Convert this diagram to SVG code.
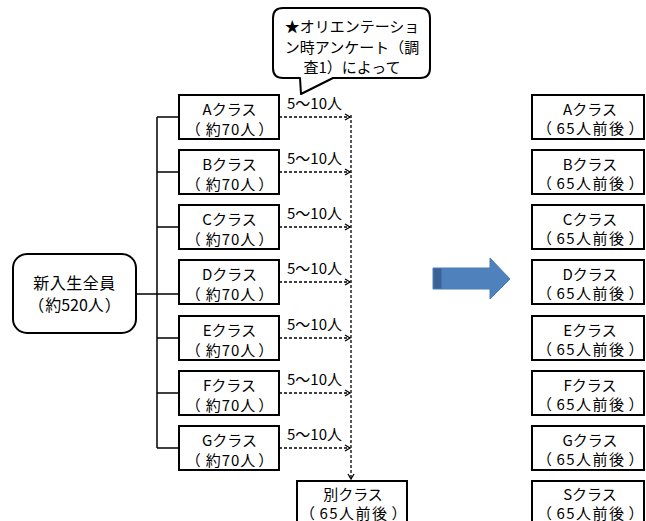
<svg xmlns="http://www.w3.org/2000/svg" width="646" height="521" viewBox="0 0 646 521">
<style>
text{font-family:"Noto Sans CJK JP","Noto Sans",sans-serif;font-size:15px;fill:#000;text-anchor:middle;dominant-baseline:central}
.box{fill:#fff;stroke:#000;stroke-width:2}
.lbl{text-anchor:start;dominant-baseline:alphabetic}
.conn{fill:none;stroke:#000;stroke-width:1.5}
.dash{fill:none;stroke:#000;stroke-width:1.3;stroke-dasharray:3 2}
.big{font-size:16px}
.p{letter-spacing:1px}
.q{letter-spacing:1.5px}
</style>
<defs>
<marker id="ah" markerUnits="userSpaceOnUse" markerWidth="8" markerHeight="8" refX="6" refY="4" orient="auto">
<path d="M1,1 L6,4 L1,7" fill="none" stroke="#000" stroke-width="1.3"/>
</marker>
</defs>
<rect width="646" height="521" fill="#fff"/>

<g id="connectors">
<path class="conn" d="M136,294 H179 M157,117 V448 M157,117 H179 M157,172 H179 M157,227 H179 M157,338 H179 M157,393 H179 M157,448 H179"/>
<path class="dash" d="M279,117 H350" marker-end="url(#ah)"/>
<path class="dash" d="M279,172 H350" marker-end="url(#ah)"/>
<path class="dash" d="M279,227 H350" marker-end="url(#ah)"/>
<path class="dash" d="M279,282 H350" marker-end="url(#ah)"/>
<path class="dash" d="M279,338 H350" marker-end="url(#ah)"/>
<path class="dash" d="M279,393 H350" marker-end="url(#ah)"/>
<path class="dash" d="M279,448 H350" marker-end="url(#ah)"/>
<path class="dash" d="M351,115 V479" marker-end="url(#ah)"/>
<text class="lbl" x="287" y="109">5～10人</text>
<text class="lbl" x="287" y="164">5～10人</text>
<text class="lbl" x="287" y="219">5～10人</text>
<text class="lbl" x="287" y="274">5～10人</text>
<text class="lbl" x="287" y="330">5～10人</text>
<text class="lbl" x="287" y="385">5～10人</text>
<text class="lbl" x="287" y="440">5～10人</text>
</g>

<g id="callout">
<path d="M283,8 H420 Q430,8 430,18 V68 Q430,78 420,78 H333 L301,94 L300,78 H283 Q273,78 273,68 V18 Q273,8 283,8 Z" fill="#fff" stroke="#000" stroke-width="2" stroke-linejoin="round"/>
<text x="352" y="25">★オリエンテーショ</text>
<text x="352" y="46">ン時アンケート（調</text>
<text x="352" y="66">査1）によって</text>
</g>

<g id="all">
<rect class="box" x="13" y="254" width="123" height="79" rx="14"/>
<text class="big" x="74.5" y="282" style="letter-spacing:0.5px">新入生全員</text>
<text class="big" x="74.5" y="304">（<tspan dx="1">約520人</tspan><tspan dx="1">）</tspan></text>
</g>

<g id="lA"><rect class="box" x="179" y="95" width="100" height="44"/><text x="229.5" y="108">Aクラス</text><text class="p" x="230" y="128">（<tspan dx="4">約70人</tspan><tspan dx="2">）</tspan></text></g>
<g id="lB"><rect class="box" x="179" y="150" width="100" height="44"/><text x="229.5" y="163">Bクラス</text><text class="p" x="230" y="183">（<tspan dx="4">約70人</tspan><tspan dx="2">）</tspan></text></g>
<g id="lC"><rect class="box" x="179" y="205" width="100" height="44"/><text x="229.5" y="218">Cクラス</text><text class="p" x="230" y="238">（<tspan dx="4">約70人</tspan><tspan dx="2">）</tspan></text></g>
<g id="lD"><rect class="box" x="179" y="260" width="100" height="44"/><text x="229.5" y="273">Dクラス</text><text class="p" x="230" y="293">（<tspan dx="4">約70人</tspan><tspan dx="2">）</tspan></text></g>
<g id="lE"><rect class="box" x="179" y="316" width="100" height="44"/><text x="229.5" y="329">Eクラス</text><text class="p" x="230" y="349">（<tspan dx="4">約70人</tspan><tspan dx="2">）</tspan></text></g>
<g id="lF"><rect class="box" x="179" y="371" width="100" height="44"/><text x="229.5" y="384">Fクラス</text><text class="p" x="230" y="404">（<tspan dx="4">約70人</tspan><tspan dx="2">）</tspan></text></g>
<g id="lG"><rect class="box" x="179" y="426" width="100" height="44"/><text x="229.5" y="439">Gクラス</text><text class="p" x="230" y="459">（<tspan dx="4">約70人</tspan><tspan dx="2">）</tspan></text></g>
<g id="betsu"><rect class="box" x="297" y="481" width="110" height="44"/><text x="353" y="493">別クラス</text><text class="q" x="354" y="512">（<tspan dx="3">65人前後</tspan><tspan dx="3">）</tspan></text></g>

<g id="bigArrow">
<polygon points="433,268 490,268 490,258 510,279 490,299 490,289 433,289" fill="#4F81BD" stroke="#4A7CB8" stroke-width="1"/>
<rect x="433.5" y="268.5" width="8" height="20" fill="#3A6295"/>
</g>

<g id="rA"><rect class="box" x="532" y="95" width="112" height="44"/><text x="590" y="108">Aクラス</text><text class="q" x="591" y="127">（<tspan dx="3">65人前後</tspan><tspan dx="3">）</tspan></text></g>
<g id="rB"><rect class="box" x="532" y="150" width="112" height="44"/><text x="590" y="163">Bクラス</text><text class="q" x="591" y="182">（<tspan dx="3">65人前後</tspan><tspan dx="3">）</tspan></text></g>
<g id="rC"><rect class="box" x="532" y="205" width="112" height="44"/><text x="590" y="218">Cクラス</text><text class="q" x="591" y="237">（<tspan dx="3">65人前後</tspan><tspan dx="3">）</tspan></text></g>
<g id="rD"><rect class="box" x="532" y="260" width="112" height="44"/><text x="590" y="273">Dクラス</text><text class="q" x="591" y="292">（<tspan dx="3">65人前後</tspan><tspan dx="3">）</tspan></text></g>
<g id="rE"><rect class="box" x="532" y="316" width="112" height="44"/><text x="590" y="329">Eクラス</text><text class="q" x="591" y="348">（<tspan dx="3">65人前後</tspan><tspan dx="3">）</tspan></text></g>
<g id="rF"><rect class="box" x="532" y="371" width="112" height="44"/><text x="590" y="384">Fクラス</text><text class="q" x="591" y="403">（<tspan dx="3">65人前後</tspan><tspan dx="3">）</tspan></text></g>
<g id="rG"><rect class="box" x="532" y="426" width="112" height="44"/><text x="590" y="439">Gクラス</text><text class="q" x="591" y="458">（<tspan dx="3">65人前後</tspan><tspan dx="3">）</tspan></text></g>
<g id="rS"><rect class="box" x="532" y="481" width="112" height="44"/><text x="590" y="493">Sクラス</text><text class="q" x="591" y="512">（<tspan dx="3">65人前後</tspan><tspan dx="3">）</tspan></text></g>
</svg>
